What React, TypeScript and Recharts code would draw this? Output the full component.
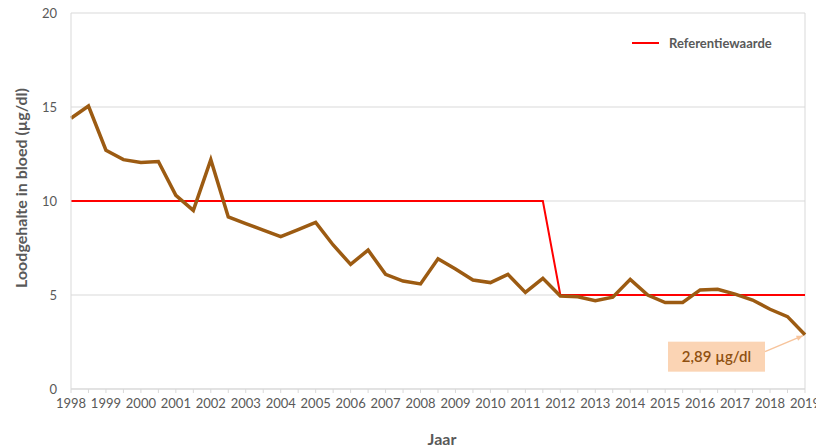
import { LineChart, Line, XAxis, YAxis, CartesianGrid, ReferenceLine, LabelList } from 'recharts';

const perioden = [
    '1998', '1998,5', '1999', '1999,5', '2000', '2000,5', '2001', '2001,5', '2002', '2002,5',
    '2003', '2003,5', '2004', '2004,5', '2005', '2005,5', '2006', '2006,5', '2007', '2007,5',
    '2008', '2008,5', '2009', '2009,5', '2010', '2010,5', '2011', '2011,5', '2012', '2012,5',
    '2013', '2013,5', '2014', '2014,5', '2015', '2015,5', '2016', '2016,5', '2017', '2017,5',
    '2018', '2018,5', '2019',
];

const loodgehalte = [
    14.4, 15.05, 12.7, 12.2, 12.05, 12.1, 10.3, 9.5, 12.2, 9.15,
    8.8, 8.45, 8.1, 8.48, 8.86, 7.66, 6.63, 7.39, 6.1, 5.74,
    5.59, 6.93, 6.38, 5.8, 5.66, 6.1, 5.14, 5.89, 4.95, 4.91,
    4.7, 4.88, 5.83, 5.0, 4.6, 4.6, 5.27, 5.3, 5.05, 4.73,
    4.24, 3.85, 2.89,
];

const referentie = [
    10, 10, 10, 10, 10, 10, 10, 10, 10, 10,
    10, 10, 10, 10, 10, 10, 10, 10, 10, 10,
    10, 10, 10, 10, 10, 10, 10, 10, 5, 5,
    5, 5, 5, 5, 5, 5, 5, 5, 5, 5,
    5, 5, 5,
];

const yTicks = [0, 5, 10, 15, 20];

const data = perioden.map((p, i) => ({ jaar: p, lood: loodgehalte[i], ref: referentie[i] }));

const FONT = 'Lato, "Open Sans", sans-serif';
const GRAY = '#595959';

// box + arrow pointing at the last measurement
function LastValueLabel(props: any) {
    const { x, y, index, value } = props;
    if (index !== loodgehalte.length - 1) return null;
    const bx = x - 137;
    const by = y + 7;
    const w = 97;
    const h = 30;
    const ax = bx + w;
    const ay = by + 10;
    const hx = x - 2;
    const hy = y + 1;
    const ang = Math.atan2(hy - ay, hx - ax);
    const head = 7;
    return (
        <g>
            <rect x={bx} y={by} width={w} height={h} fill="#fbd4b4" />
            <text x={bx + w / 2} y={by + h / 2 + 5} textAnchor="middle" fontSize={15} fontWeight={600} fill="#8f5010" fontFamily={FONT}>
                {String(value).replace('.', ',')} µg/dl
            </text>
            <line x1={ax} y1={ay} x2={hx} y2={hy} stroke="#f7c49c" strokeWidth={1.5} />
            <polygon
                points={`${hx},${hy} ${hx - head * Math.cos(ang - 0.4)},${hy - head * Math.sin(ang - 0.4)} ${hx - head * Math.cos(ang + 0.4)},${hy - head * Math.sin(ang + 0.4)}`}
                fill="#f7c49c"
            />
        </g>
    );
}

function RefLegend() {
    return (
        <div style={{ position: 'absolute', left: 632, top: 35, display: 'flex', alignItems: 'center', fontFamily: FONT, fontSize: 13, fontWeight: 700, color: GRAY }}>
            <span style={{ display: 'inline-block', width: 27, height: 2, background: '#ff0000', marginRight: 10 }} />
            Referentiewaarde
        </div>
    );
}

export default function App() {
    return (
        <div style={{ position: 'absolute', left: 0, top: 0, width: 816, height: 447, background: '#fff' }}>
            <LineChart width={816} height={447} data={data} margin={{ top: 13, right: 11, bottom: 0, left: 0 }}>
                <CartesianGrid vertical={false} stroke="#d9d9d9" />
                <XAxis
                    dataKey="jaar"
                    scale="point"
                    padding={{ left: 0, right: 0 }}
                    interval={0}
                    height={58}
                    tickFormatter={(v: string) => (v.includes(',') ? '' : v)}
                    tick={{ fill: GRAY, fontSize: 13, fontFamily: FONT }}
                    tickSize={4}
                    tickMargin={6}
                    axisLine={{ stroke: '#d9d9d9' }}
                    tickLine={{ stroke: '#d9d9d9' }}
                    label={{ value: 'Jaar', position: 'insideBottom', offset: 2, dx: 4, fill: GRAY, fontSize: 16, fontWeight: 700, fontFamily: FONT }}
                />
                <YAxis
                    domain={[0, 20]}
                    ticks={yTicks}
                    width={71}
                    tickLine={false}
                    tickSize={0}
                    tickMargin={14}
                    tick={{ fill: GRAY, fontSize: 13, fontFamily: FONT }}
                    axisLine={{ stroke: '#d9d9d9' }}
                    label={{ value: 'Loodgehalte in bloed (µg/dl)', angle: -90, position: 'center', dx: -14, dy: -13, fill: GRAY, fontSize: 16, fontWeight: 700, fontFamily: FONT }}
                />
                <ReferenceLine x="2019" stroke="#d9d9d9" />
                <Line
                    dataKey="ref"
                    name="Referentiewaarde"
                    stroke="#ff0000"
                    strokeWidth={2}
                    dot={false}
                    activeDot={false}
                    isAnimationActive={false}
                />
                <Line
                    dataKey="lood"
                    name="Loodgehalte"
                    stroke="#9c5b12"
                    strokeWidth={3.5}
                    dot={false}
                    activeDot={false}
                    isAnimationActive={false}
                >
                    <LabelList dataKey="lood" content={<LastValueLabel />} />
                </Line>
            </LineChart>
            <RefLegend />
        </div>
    );
}
